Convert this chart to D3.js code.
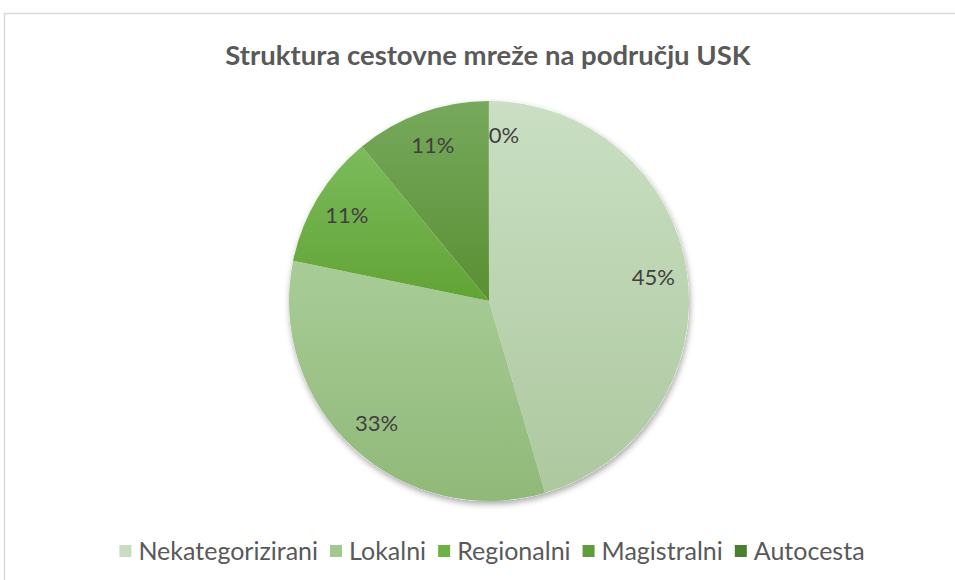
<!DOCTYPE html>
<html>
<head>
<meta charset="utf-8">
<script src="https://cdn.jsdelivr.net/npm/d3@7"></script>
<style>
  body { margin: 0; background: #fff; }
  text { font-family: Lato, "Open Sans", sans-serif; }
</style>
</head>
<body>
<div id="chart"></div>
<script>
const categories = ["Nekategorizirani", "Lokalni", "Regionalni", "Magistralni", "Autocesta"];
const values = [45.4, 32.7, 10.8, 10.9, 0.04];
const labels = ["45%", "33%", "11%", "11%", "0%"];
const colorsTop = ["#cadfc3", "#a9cc97", "#7cbb5c", "#76a95c", "#5a8c3c"];
const colorsBottom = ["#adc89f", "#90b979", "#62a335", "#5a8f33", "#467a2a"];
const legendColors = ["#c8dcc0", "#a3c88f", "#6fb244", "#5f9c3b", "#4a7f2f"];

const width = 955, height = 580;
const cx = 489, cy = 301, radius = 200;

const svg = d3.select("#chart")
  .append("svg")
  .attr("width", width)
  .attr("height", height);

const defs = svg.append("defs");

// gradients per slice, lighter at top
categories.forEach(function (c, i) {
  const g = defs.append("linearGradient")
    .attr("id", "grad" + i)
    .attr("x1", 0).attr("y1", 0).attr("x2", 0).attr("y2", 1);
  g.append("stop").attr("offset", "0%").attr("stop-color", colorsTop[i]);
  g.append("stop").attr("offset", "100%").attr("stop-color", colorsBottom[i]);
});

const shadow = defs.append("filter")
  .attr("id", "shadow")
  .attr("x", "-20%").attr("y", "-20%").attr("width", "140%").attr("height", "140%");
shadow.append("feDropShadow")
  .attr("dx", 1).attr("dy", 3)
  .attr("stdDeviation", 3)
  .attr("flood-color", "#000")
  .attr("flood-opacity", 0.35);

// chart border
svg.append("rect")
  .attr("x", 4.5).attr("y", 13.5)
  .attr("width", 960).attr("height", 600)
  .attr("fill", "none")
  .attr("stroke", "#d9d9d9")
  .attr("stroke-width", 1.5);

// title
svg.append("text")
  .attr("x", 488).attr("y", 65)
  .attr("text-anchor", "middle")
  .style("font-size", "27.5px")
  .style("font-weight", "bold")
  .attr("fill", "#595959")
  .text("Struktura cestovne mreže na području USK");

const pie = d3.pie()
  .sort(null)
  .value(function (d) { return d; });
const data_ready = pie(values);

const arcGenerator = d3.arc()
  .innerRadius(0)
  .outerRadius(radius);

const labelArc = d3.arc()
  .innerRadius(radius * 0.83)
  .outerRadius(radius * 0.83);

const g = svg.append("g")
  .attr("transform", `translate(${cx}, ${cy})`);

g.append("circle")
  .attr("r", radius)
  .attr("fill", "#fff")
  .attr("filter", "url(#shadow)");

g.selectAll("path.slice")
  .data(data_ready)
  .join("path")
  .attr("class", "slice")
  .attr("d", arcGenerator)
  .attr("fill", function (d, i) { return `url(#grad${i})`; });

g.selectAll("text.lbl")
  .data(data_ready)
  .join("text")
  .attr("class", "lbl")
  .attr("transform", function (d) { return `translate(${labelArc.centroid(d)})`; })
  .attr("dy", "0.35em")
  .style("text-anchor", function (d) { return d.value < 1 ? "start" : "middle"; })
  .style("font-size", "22px")
  .attr("fill", "#404040")
  .text(function (d, i) { return labels[i]; });

// legend
const legend = svg.append("g");
const items = legend.selectAll("g")
  .data(categories)
  .join("g");
items.append("rect")
  .attr("width", 12).attr("height", 12)
  .attr("y", -6)
  .attr("fill", function (d, i) { return legendColors[i]; });
items.append("text")
  .attr("x", 19)
  .attr("dy", "0.35em")
  .style("font-size", "25px")
  .attr("fill", "#595959")
  .text(function (d) { return d; });

let xPos = 0;
items.each(function () {
  const w = d3.select(this).select("text").node().getComputedTextLength();
  d3.select(this).attr("transform", `translate(${xPos}, 0)`);
  xPos += 19 + w + 12;
});
const totalW = xPos - 12;
legend.attr("transform", `translate(${492 - totalW / 2}, 551)`);
</script>
</body>
</html>
